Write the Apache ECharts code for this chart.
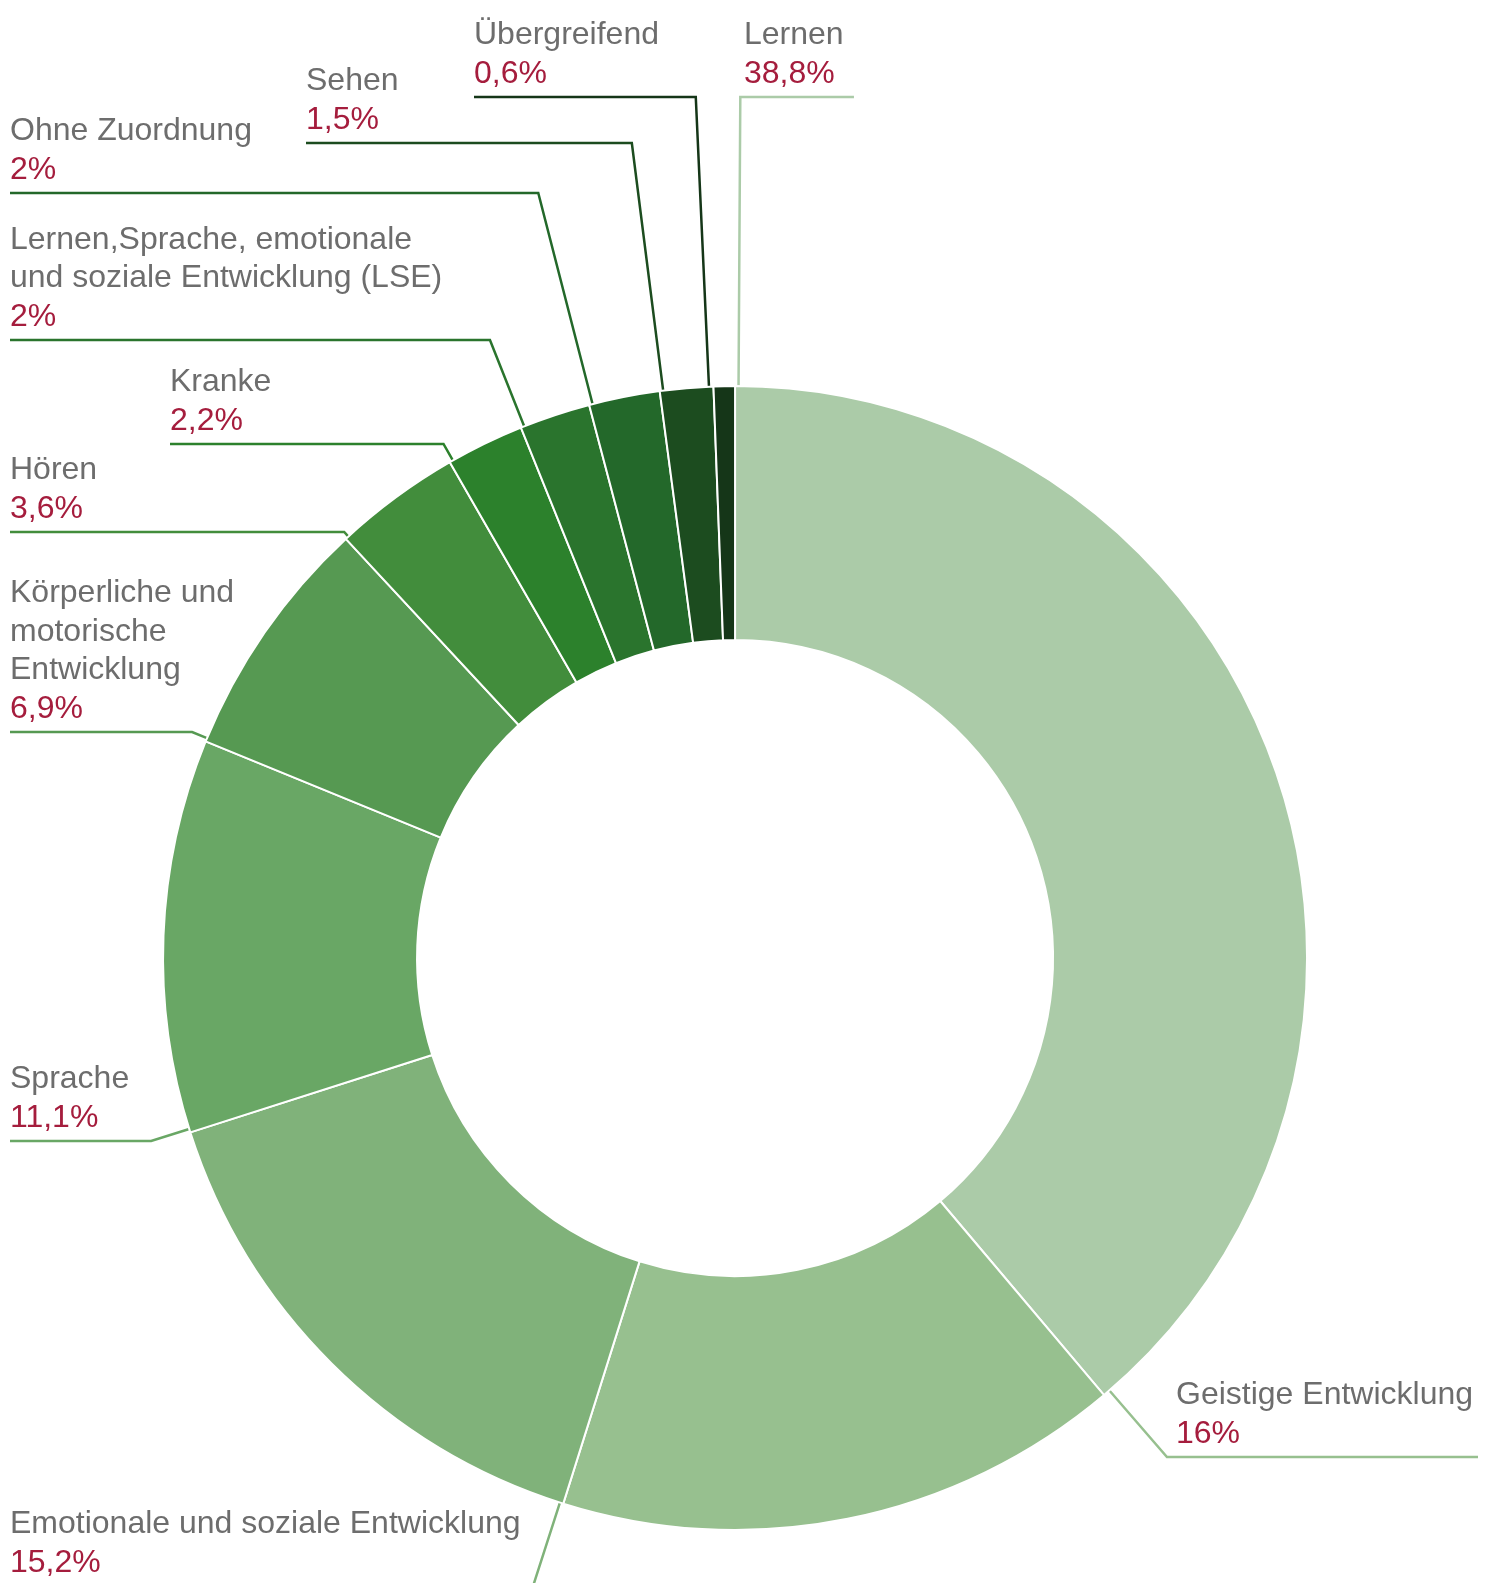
<!DOCTYPE html>
<html><head><meta charset="utf-8">
<script src="https://cdn.jsdelivr.net/npm/echarts@6/dist/echarts.min.js"></script>
<style>html,body{margin:0;padding:0;background:#fff}#c{width:1494px;height:1583px}</style>
</head><body><div id="c"></div>
<script>
// ---- data ----
const categories = ['Lernen', 'Geistige Entwicklung', 'Emotionale und soziale Entwicklung', 'Sprache',
  'Körperliche und\nmotorische\nEntwicklung', 'Hören', 'Kranke',
  'Lernen,Sprache, emotionale\nund soziale Entwicklung (LSE)', 'Ohne Zuordnung', 'Sehen', 'Übergreifend'];
const values = [38.8, 16, 15.2, 11.1, 6.9, 3.6, 2.2, 2, 2, 1.5, 0.6];
const colors = ['#abcba8', '#97c08f', '#80b27a', '#69a765', '#569952', '#428d3c', '#2c812c', '#2a742d', '#23682a', '#1c4c1f', '#153618'];

// ---- label layout (positions only) ----
const labelX = [744, 1176, 10, 10, 10, 10, 170, 10, 10, 306, 474];
const lineY = [97, 1457, 1620, 1141, 732, 532, 444, 340, 193, 143, 97];
const labelBottom = [93, 1453, 1582, 1137, 728, 528, 440, 336, 189, 139, 93];
const attachOffsetDeg = [0.35, -0.7, 0.35, 0.35, 0.35, 0.35, 0.35, 0.35, 0.35, 0.35, -0.45];

const FONT = '"Liberation Sans", Arial, Helvetica, sans-serif';
const FS = 32;
const LH = 38.5;
const chart = echarts.init(document.getElementById('c'));

function pct(v) { return String(v).replace('.', ',') + '%'; }

function geom(i) {
  let cx = chart.getWidth() * 0.492, cy = chart.getHeight() * 0.6052, r = 572;
  try {
    const l = chart.getModel().getSeriesByIndex(0).getData().getItemLayout(i);
    if (l && l.r) { cx = l.cx; cy = l.cy; r = l.r; }
  } catch (e) {}
  const total = values.reduce((a, b) => a + b, 0);
  let cum = 0;
  for (let k = 0; k < i; k++) cum += values[k];
  const a = -Math.PI / 2 + cum / total * 2 * Math.PI + attachOffsetDeg[i] * Math.PI / 180;
  return { cx, cy, r, a };
}

const option = {
  animation: false,
  series: [{
    type: 'pie',
    center: ['49.2%', '60.52%'],
    radius: [318, 572],
    startAngle: 90,
    clockwise: true,
    avoidLabelOverlap: false,
    data: categories.map((n, i) => ({ name: n, value: values[i], itemStyle: { color: colors[i] } })),
    itemStyle: { borderColor: '#ffffff', borderWidth: 2 },
    emphasis: { disabled: true },
    label: {
      show: true,
      position: 'outside',
      fontFamily: FONT,
      fontSize: FS,
      lineHeight: LH,
      formatter: p => p.name.split('\n').map(s => '{n|' + s + '}').join('\n') + '\n{p|' + pct(p.value) + '}',
      rich: {
        n: { color: '#6d6d6d', fontSize: FS, lineHeight: LH, fontFamily: FONT },
        p: { color: '#a51d3d', fontSize: FS, lineHeight: LH, fontFamily: FONT }
      }
    },
    labelLine: { show: true, length: 10, length2: 10, smooth: false, lineStyle: { width: 2.5 } },
    labelLayout: function (params) {
      const i = params.dataIndex;
      const g = geom(i);
      const dx = Math.cos(g.a), dy = Math.sin(g.a);
      const p0 = [g.cx + g.r * dx, g.cy + g.r * dy];
      const t = (lineY[i] - p0[1]) / dy;
      const elbow = [p0[0] + dx * t, lineY[i]];
      const w = params.labelRect.width;
      const right = labelX[i] > elbow[0];
      const endX = right ? elbow[0] + w + 14 : labelX[i];
      return {
        x: labelX[i], y: labelBottom[i], align: 'left', verticalAlign: 'bottom',
        labelLinePoints: [p0, elbow, [endX, lineY[i]]]
      };
    }
  }]
};
chart.setOption(option);
</script>
</body></html>
